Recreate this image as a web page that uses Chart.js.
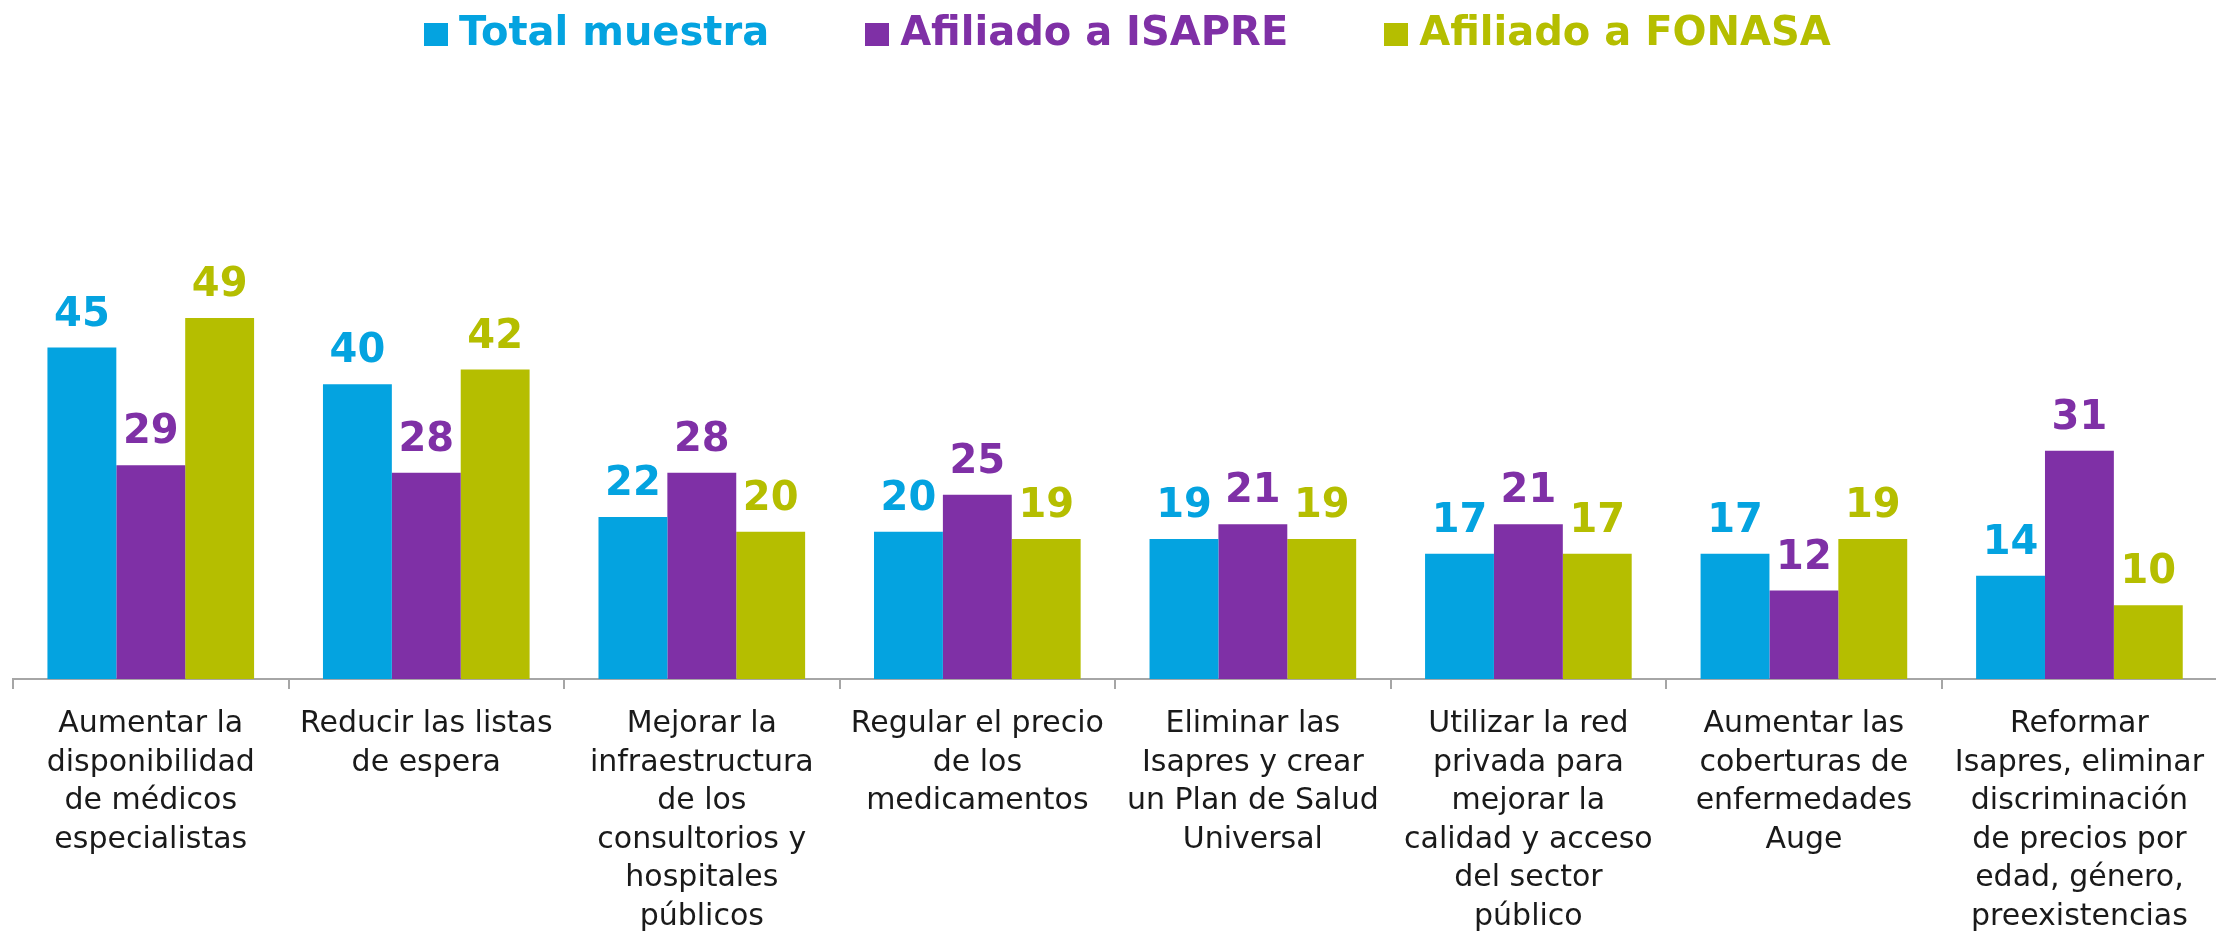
<!DOCTYPE html>
<html>
<head>
<meta charset="utf-8">
<script src="https://cdn.jsdelivr.net/npm/chart.js@4.4.1/dist/chart.umd.min.js"></script>
<style>
    html, body { margin: 0; padding: 0; background: #ffffff; overflow: hidden; }
    #wrap { position: relative; width: 2220px; height: 952px; }
    #legend {
        position: absolute; top: 0; left: 424px; height: 62px;
        display: flex; align-items: center;
        font-family: 'DejaVu Sans', sans-serif; font-weight: 700; font-size: 40px;
    }
    #legend .item { display: flex; align-items: center; margin-right: 96px; }
    #legend .box { width: 24px; height: 23px; margin-right: 11px; margin-top: 6px; }
</style>
</head>
<body>
<div id="wrap">
    <div id="legend"></div>
    <canvas id="saludChart"></canvas>
</div>
<script>
var categorias = [
    ['Aumentar la', 'disponibilidad', 'de médicos', 'especialistas'],
    ['Reducir las listas', 'de espera'],
    ['Mejorar la', 'infraestructura', 'de los', 'consultorios y', 'hospitales', 'públicos'],
    ['Regular el precio', 'de los', 'medicamentos'],
    ['Eliminar las', 'Isapres y crear', 'un Plan de Salud', 'Universal'],
    ['Utilizar la red', 'privada para', 'mejorar la', 'calidad y acceso', 'del sector', 'público'],
    ['Aumentar las', 'coberturas de', 'enfermedades', 'Auge'],
    ['Reformar', 'Isapres, eliminar', 'discriminación', 'de precios por', 'edad, género,', 'preexistencias']
];
var series = ['Total muestra', 'Afiliado a ISAPRE', 'Afiliado a FONASA'];
var totalMuestra = [45, 40, 22, 20, 19, 17, 17, 14];
var afiliadoIsapre = [29, 28, 28, 25, 21, 21, 12, 31];
var afiliadoFonasa = [49, 42, 20, 19, 19, 17, 19, 10];

var colores = ['#04a3e0', '#7f30a6', '#b5be00'];

// legend as html, spacing in the original is wider than chart.js allows
var legendEl = document.getElementById('legend');
series.forEach(function(name, i) {
    var item = document.createElement('div');
    item.className = 'item';
    item.innerHTML = '<span class="box" style="background:' + colores[i] + '"></span>' +
        '<span style="color:' + colores[i] + '">' + name + '</span>';
    legendEl.appendChild(item);
});

// values above each bar
var valueLabels = {
    id: 'valueLabels',
    afterDatasetsDraw: function(chart) {
        var ctx = chart.ctx;
        ctx.save();
        ctx.font = "700 40px 'DejaVu Sans', sans-serif";
        ctx.textAlign = 'center';
        ctx.textBaseline = 'alphabetic';
        chart.data.datasets.forEach(function(ds, i) {
            var meta = chart.getDatasetMeta(i);
            ctx.fillStyle = ds.backgroundColor;
            meta.data.forEach(function(bar, j) {
                ctx.fillText(ds.data[j], bar.x, bar.y - 22);
            });
        });
        ctx.restore();
    }
};

var ctx = document.getElementById('saludChart');
new Chart(ctx, {
    type: 'bar',
    data: {
        labels: categorias,
        datasets: [
            { label: series[0], data: totalMuestra, backgroundColor: colores[0], borderWidth: 0 },
            { label: series[1], data: afiliadoIsapre, backgroundColor: colores[1], borderWidth: 0 },
            { label: series[2], data: afiliadoFonasa, backgroundColor: colores[2], borderWidth: 0 }
        ]
    },
    options: {
        responsive: true,
        maintainAspectRatio: false,
        animation: false,
        datasets: {
            bar: { categoryPercentage: 0.75, barPercentage: 1.0 }
        },
        layout: {
            padding: { top: 237, left: 13, right: 0, bottom: 0 }
        },
        plugins: {
            legend: { display: false },
            tooltip: { enabled: false }
        },
        scales: {
            y: {
                display: false,
                min: 0,
                max: 60
            },
            x: {
                border: { display: true, color: '#a6a6a6', width: 2 },
                grid: {
                    offset: true,
                    drawOnChartArea: false,
                    drawTicks: true,
                    tickLength: 10,
                    color: '#a6a6a6',
                    lineWidth: 2
                },
                ticks: {
                    autoSkip: false,
                    maxRotation: 0,
                    padding: 16,
                    color: '#1a1a1a',
                    font: { family: "'DejaVu Sans', sans-serif", size: 30, lineHeight: '38.5px' }
                }
            }
        }
    },
    plugins: [valueLabels]
});
</script>
</body>
</html>
